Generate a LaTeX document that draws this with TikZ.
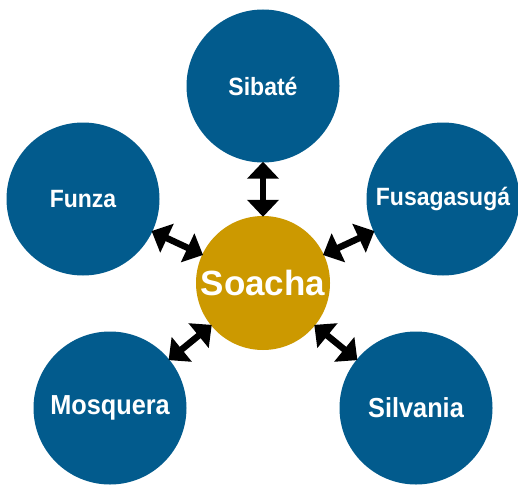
\documentclass[tikz,border=0pt]{standalone}
\usepackage{fontspec}
\setmainfont{Liberation Sans}
\newfontfamily\lblfont[FakeStretch=0.92]{Liberation Sans}
\usetikzlibrary{arrows.meta}
\definecolor{cblue}{RGB}{2,91,141}
\definecolor{cgold}{RGB}{204,153,0}
\tikzset{
  town/.style={circle, fill=cblue, draw=none, inner sep=0pt, minimum size=153pt, text=white},
  smalllbl/.style={font=\lblfont\bfseries\fontsize{25}{29}\selectfont},
  biglbl/.style={font=\lblfont\bfseries\fontsize{27.5}{31}\selectfont},
  hub/.style={circle, fill=cgold, draw=none, inner sep=0pt, minimum size=134pt, text=white, font=\bfseries\fontsize{35}{40}\selectfont},
  link/.style={line width=6.5pt, {Triangle[width=31pt,length=17pt]}-{Triangle[width=31pt,length=17pt]}, black, shorten <=-1pt, shorten >=-1pt}
}
\begin{document}
\begin{tikzpicture}[x=1pt,y=-1pt]
\useasboundingbox (0,0) rectangle (518,484);
\fill[white] (0,0) rectangle (518,484);
\node[hub] (soacha) at (263,283) {Soacha};
\node[town, smalllbl] (sibate) at (263,86) {Sibaté};
\node[town, smalllbl] (funza) at (83,199) {Funza};
\node[town, smalllbl] (fusa) at (443,199) {Fusagasugá};
\node[town, biglbl] (mosquera) at (110,408) {Mosquera};
\node[town, biglbl] (silvania) at (416,408) {Silvania};
\draw[link] (sibate) -- (soacha);
\draw[link] (funza) -- (soacha);
\draw[link] (fusa) -- (soacha);
\draw[link] (mosquera) -- (soacha);
\draw[link] (silvania) -- (soacha);
\end{tikzpicture}
\end{document}
